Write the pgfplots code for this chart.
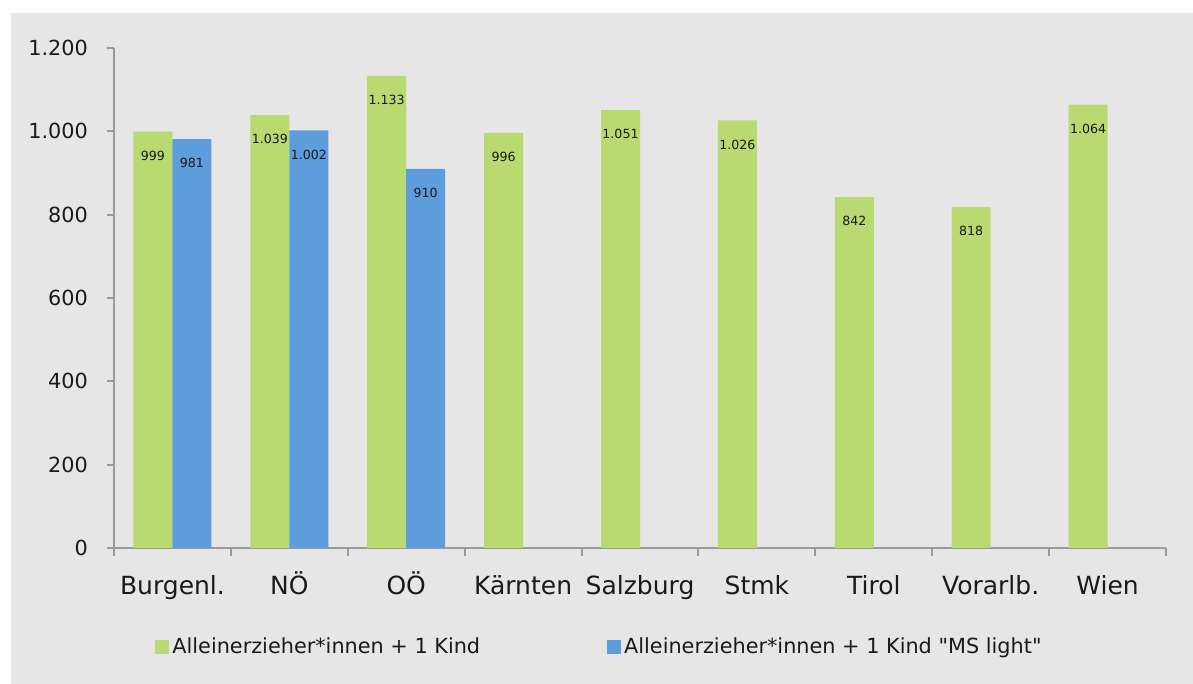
\documentclass[border=0pt]{standalone}
\usepackage{pgfplots}
\pgfplotsset{compat=1.18}
\usepackage{fontspec}
\setmainfont{DejaVu Sans}
\definecolor{bggray}{HTML}{E6E6E6}
\definecolor{bargreen}{HTML}{B9D971}
\definecolor{barblue}{HTML}{5E9DDC}
\definecolor{axgray}{HTML}{9A9A9A}
\definecolor{txt}{HTML}{1A1A1A}
\begin{document}
\begin{tikzpicture}
\path[use as bounding box, fill=white] (-57pt,-68pt) rectangle (539.5pt,274pt);
\fill[bggray] (-51.5pt,-68pt) rectangle (539.5pt,267.5pt);
\begin{axis}[
  scale only axis, width=526pt, height=250pt,
  xmin=-0.5, xmax=8.5, ymin=0, ymax=1200,
  ybar=0pt, bar width=19.5pt,
  axis x line=bottom, axis y line=left,
  axis line style={-, draw=axgray, line width=1pt},
  xtick={0,...,8},
  xticklabels={Burgenl., NÖ, OÖ, Kärnten, Salzburg, Stmk, Tirol, Vorarlb., Wien},
  minor xtick={-0.5,0.5,...,8.5},
  ytick={0,200,...,1200},
  tick align=outside,
  major x tick style={draw=none},
  minor x tick style={draw=axgray, line width=1pt},
  minor tick length=4pt,
  major tick length=3.5pt,
  y tick style={draw=axgray, line width=1pt},
  x tick label style={font=\fontsize{12.5}{15}\selectfont, text=txt, text height=12pt, yshift=-4pt},
  y tick label style={font=\fontsize{10.4}{12}\selectfont, text=txt, xshift=-6pt},
  /pgf/number format/.cd, 1000 sep={.}, assume math mode=true, /pgfplots/.cd,
  nodes near coords,
  every node near coord/.append style={anchor=center, yshift=-12pt, font=\fontsize{6.3}{7}\selectfont, text=txt},
  legend columns=2,
  legend style={at={(0.039,-0.198)}, anchor=west, draw=none, fill=none, inner sep=0pt,
    font=\fontsize{10.4}{12}\selectfont, text=txt,
    nodes={inner sep=1.5pt, anchor=west},
    /tikz/every even column/.append style={column sep=62pt}},
  legend image code/.code={\fill[#1] (0pt,-3.3pt) rectangle (7pt,3.3pt);},
]
\addplot[fill=bargreen, draw=none] coordinates {(0,999) (1,1039) (2,1133) (3,996) (4,1051) (5,1026) (6,842) (7,818) (8,1064)};
\addplot[fill=barblue, draw=none] coordinates {(0,981) (1,1002) (2,910)};
\legend{Alleinerzieher*innen + 1 Kind, Alleinerzieher*innen + 1 Kind \textquotedbl MS light\textquotedbl}
\end{axis}
\end{tikzpicture}
\end{document}
